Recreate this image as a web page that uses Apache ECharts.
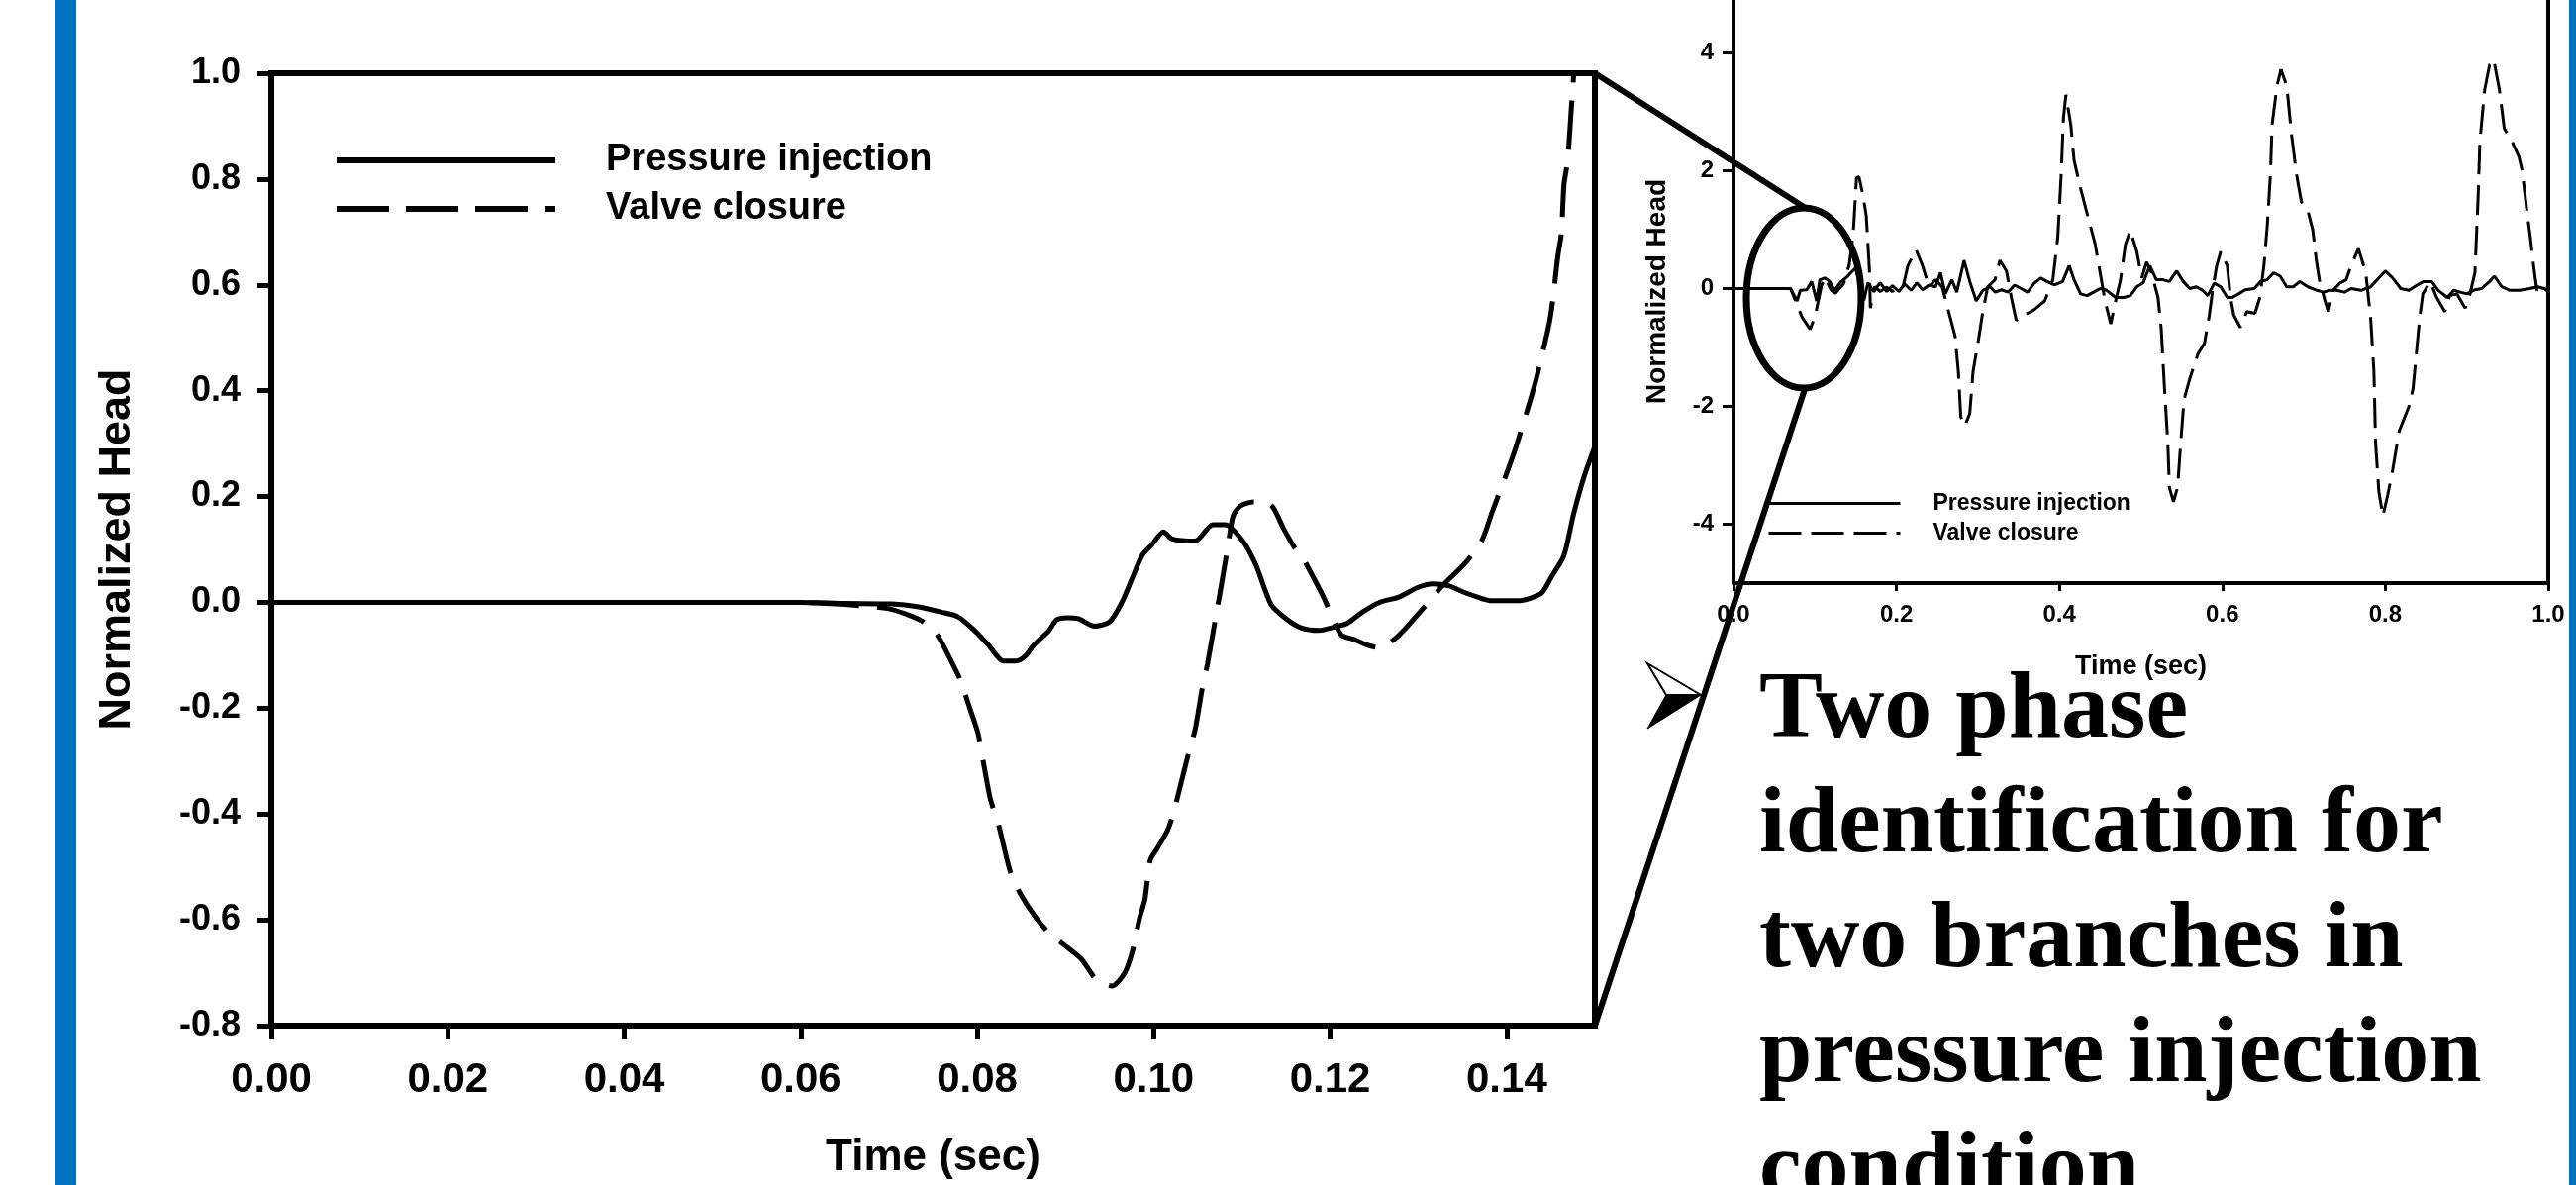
<!DOCTYPE html>
<html><head><meta charset="utf-8">
<script src="https://cdn.jsdelivr.net/npm/echarts@6/dist/echarts.min.js"></script>
<style>html,body{margin:0;padding:0;background:#fff;}#c{width:2602px;height:1197px;}</style>
</head><body><div id="c"></div>
<script>
// ---------------- data ----------------
const seriesNames = ['Pressure injection', 'Valve closure'];
const mainXTicks = [0, 0.02, 0.04, 0.06, 0.08, 0.10, 0.12, 0.14];
const mainYTicks = [-0.8, -0.6, -0.4, -0.2, 0, 0.2, 0.4, 0.6, 0.8, 1.0];
const insetXTicks = [0, 0.2, 0.4, 0.6, 0.8, 1.0];
const insetYTicks = [-4, -2, 0, 2, 4];

const mainPressure = [[0,0],[0.06,0],[0.065,-0.002],[0.0704,-0.003],[0.0732,-0.008],[0.0761,-0.019],[0.0778,-0.027],[0.0795,-0.05],[0.0812,-0.079],[0.083,-0.111],[0.0844,-0.111],[0.0855,-0.101],[0.0864,-0.081],[0.0881,-0.054],[0.089,-0.033],[0.0901,-0.029],[0.0915,-0.031],[0.0933,-0.045],[0.095,-0.037],[0.0964,0.0],[0.0975,0.043],[0.0987,0.089],[0.0998,0.109],[0.1011,0.133],[0.1021,0.12],[0.1047,0.116],[0.1067,0.147],[0.1081,0.147],[0.1101,0.116],[0.1116,0.07],[0.1133,-0.004],[0.115,-0.031],[0.1167,-0.048],[0.1187,-0.053],[0.1204,-0.047],[0.1219,-0.04],[0.1236,-0.019],[0.1256,0.0],[0.1278,0.01],[0.1299,0.028],[0.1316,0.035],[0.1335,0.031],[0.1349,0.021],[0.1367,0.01],[0.1383,0.003],[0.1413,0.003],[0.1439,0.017],[0.145,0.046],[0.1465,0.089],[0.1476,0.168],[0.1488,0.239],[0.15,0.295]];

const mainValve = [[0,0],[0.06,0],[0.065,-0.004],[0.07,-0.012],[0.0727,-0.027],[0.0741,-0.039],[0.0755,-0.062],[0.077,-0.109],[0.0781,-0.147],[0.0792,-0.202],[0.0801,-0.248],[0.0807,-0.302],[0.0815,-0.372],[0.0824,-0.419],[0.0838,-0.512],[0.085,-0.554],[0.0867,-0.597],[0.0881,-0.624],[0.0895,-0.643],[0.0918,-0.674],[0.0935,-0.713],[0.0953,-0.725],[0.0967,-0.701],[0.0976,-0.659],[0.0984,-0.597],[0.099,-0.562],[0.0996,-0.488],[0.1004,-0.465],[0.1016,-0.43],[0.1024,-0.388],[0.1038,-0.295],[0.1047,-0.24],[0.1055,-0.163],[0.1061,-0.116],[0.107,-0.031],[0.1075,0.016],[0.1084,0.105],[0.109,0.163],[0.1098,0.182],[0.1113,0.19],[0.1133,0.184],[0.1147,0.14],[0.1159,0.105],[0.117,0.081],[0.1181,0.047],[0.1193,0.008],[0.1204,-0.035],[0.1213,-0.062],[0.1227,-0.07],[0.1242,-0.081],[0.1256,-0.086],[0.1278,-0.062],[0.1305,-0.012],[0.1327,0.031],[0.1353,0.074],[0.1372,0.117],[0.1383,0.168],[0.1402,0.253],[0.1411,0.296],[0.1428,0.389],[0.1435,0.432],[0.1448,0.525],[0.1452,0.568],[0.1458,0.654],[0.1462,0.697],[0.1465,0.79],[0.1469,0.833],[0.1473,0.926],[0.1476,0.998],[0.148,1.1]];

const insetPressure = [[0,0],[0.07,0],[0.078,-0.21],[0.082,-0.03],[0.09,-0.02],[0.096,0.12],[0.102,-0.21],[0.106,0.15],[0.112,0.18],[0.118,0.12],[0.124,-0.03],[0.132,0.12],[0.138,0.18],[0.144,0.27],[0.15,0.35],[0.155,0.05],[0.16,-0.2],[0.165,0.1],[0.172,-0.05],[0.18,0.1],[0.188,-0.05],[0.195,0.05],[0.203,-0.05],[0.21,0.08],[0.218,-0.03],[0.225,0.1],[0.232,-0.02],[0.24,0.06],[0.248,0.03],[0.254,0.27],[0.26,-0.09],[0.268,0.15],[0.274,-0.06],[0.283,0.48],[0.29,0.12],[0.298,-0.21],[0.306,-0.03],[0.315,0.03],[0.321,-0.06],[0.329,-0.02],[0.337,-0.06],[0.345,0.06],[0.353,0],[0.361,-0.06],[0.369,0.09],[0.377,0.18],[0.385,0.12],[0.394,0.06],[0.404,0.12],[0.412,0.39],[0.418,0.15],[0.426,-0.09],[0.434,-0.12],[0.442,-0.06],[0.45,0],[0.458,-0.03],[0.469,-0.15],[0.479,-0.15],[0.487,-0.12],[0.495,0.03],[0.503,0.1],[0.511,0.39],[0.519,0.15],[0.527,0.15],[0.535,0.12],[0.544,0.3],[0.552,0.12],[0.56,0],[0.568,0.03],[0.576,-0.03],[0.582,-0.12],[0.59,0.09],[0.598,0.03],[0.606,-0.15],[0.612,-0.15],[0.62,-0.09],[0.628,-0.02],[0.639,0],[0.647,0.12],[0.655,0.15],[0.663,0.27],[0.671,0.21],[0.679,0.03],[0.687,0.03],[0.695,0.12],[0.705,0.03],[0.716,-0.03],[0.724,-0.06],[0.732,-0.03],[0.74,-0.03],[0.75,-0.06],[0.758,0.0],[0.77,-0.03],[0.782,0.03],[0.792,0.18],[0.8,0.3],[0.809,0.18],[0.819,0],[0.829,-0.03],[0.839,0.06],[0.847,0.12],[0.857,0.12],[0.865,-0.03],[0.876,-0.15],[0.884,-0.03],[0.892,-0.06],[0.9,-0.09],[0.908,-0.03],[0.918,0],[0.928,0.12],[0.934,0.21],[0.943,0.03],[0.953,-0.03],[0.965,-0.03],[0.977,0],[0.987,0.03],[0.995,0],[1.0,-0.05]];

const insetValve = [[0,0],[0.07,0],[0.084,-0.48],[0.094,-0.69],[0.1,-0.48],[0.108,0.05],[0.112,0.19],[0.12,-0.03],[0.125,-0.08],[0.135,0.08],[0.142,0.4],[0.147,0.93],[0.151,1.88],[0.154,1.9],[0.159,1.58],[0.163,1.23],[0.165,0.75],[0.167,0.27],[0.168,-0.33],[0.173,0.03],[0.18,-0.05],[0.188,0.02],[0.195,-0.05],[0.203,0.05],[0.208,0.03],[0.214,0.39],[0.224,0.66],[0.232,0.39],[0.24,0.03],[0.248,0.15],[0.256,0.03],[0.264,-0.39],[0.272,-0.81],[0.276,-1.41],[0.279,-2.18],[0.284,-2.33],[0.29,-2.12],[0.294,-1.41],[0.3,-0.93],[0.306,-0.39],[0.312,0.03],[0.321,0.15],[0.327,0.48],[0.335,0.3],[0.341,-0.15],[0.347,-0.54],[0.353,-0.45],[0.361,-0.42],[0.369,-0.36],[0.382,-0.21],[0.392,0.15],[0.398,0.87],[0.402,1.88],[0.405,2.9],[0.408,3.29],[0.414,2.78],[0.418,2.18],[0.426,1.7],[0.436,1.17],[0.444,0.75],[0.45,0.27],[0.456,-0.21],[0.463,-0.6],[0.469,-0.21],[0.475,0.15],[0.481,0.75],[0.487,0.99],[0.495,0.63],[0.501,0.18],[0.507,0.45],[0.513,0.27],[0.521,-0.15],[0.525,-0.69],[0.529,-1.7],[0.533,-2.6],[0.535,-3.38],[0.54,-3.62],[0.545,-3.38],[0.549,-2.6],[0.553,-1.88],[0.56,-1.53],[0.57,-1.11],[0.578,-0.93],[0.584,-0.45],[0.588,-0.03],[0.593,0.39],[0.598,0.63],[0.606,0.39],[0.61,-0.15],[0.614,-0.45],[0.622,-0.66],[0.63,-0.39],[0.64,-0.42],[0.646,-0.15],[0.651,0.39],[0.655,1.05],[0.659,1.94],[0.661,2.78],[0.667,3.44],[0.672,3.72],[0.679,3.44],[0.685,2.6],[0.691,1.94],[0.697,1.47],[0.705,1.32],[0.711,0.99],[0.715,0.51],[0.719,0.15],[0.726,-0.21],[0.73,-0.39],[0.736,-0.03],[0.744,0.09],[0.752,0.15],[0.758,0.39],[0.767,0.68],[0.776,0.27],[0.782,-0.51],[0.786,-1.41],[0.788,-2.6],[0.792,-3.44],[0.797,-3.86],[0.803,-3.5],[0.809,-3.08],[0.817,-2.42],[0.829,-2.0],[0.834,-1.7],[0.838,-1.11],[0.842,-0.51],[0.846,-0.09],[0.855,0.12],[0.863,-0.15],[0.873,-0.39],[0.879,-0.12],[0.888,-0.09],[0.898,-0.33],[0.904,-0.09],[0.91,0.27],[0.914,1.58],[0.916,2.48],[0.922,3.38],[0.928,3.8],[0.933,3.89],[0.94,3.38],[0.946,2.72],[0.956,2.48],[0.964,2.24],[0.968,2.0],[0.974,1.29],[0.978,0.87],[0.982,0.39],[0.986,-0.03],[0.99,0.05],[1.0,0]];

const axisTitleX = 'Time (sec)';
const axisTitleY = 'Normalized Head';
const slideLines = ['Two phase', 'identification for', 'two branches in', 'pressure injection', 'condition'];

// ---------------- chart ----------------
const SANS = '"Liberation Sans", Arial, sans-serif';
const SERIF = '"Liberation Serif", "Times New Roman", serif';
const BLACK = '#000';
const BLUE = '#0070C0';

const chart = echarts.init(document.getElementById('c'), null, {renderer: 'canvas'});

const slideTextEls = slideLines.map((t, i) => ({
  type: 'text', x: 1777, y: 719 + i * 116, z: 100,
  style: {text: t, fill: BLACK, font: 'bold 96px ' + SERIF, align: 'left', verticalAlign: 'middle'}
}));

const option = {
  animation: false,
  backgroundColor: '#fff',
  grid: [
    {left: 274, top: 74, width: 1337, height: 962, show: true, borderColor: BLACK, borderWidth: 6, backgroundColor: 'transparent'},
    {left: 1751, top: 0, width: 823, height: 589, show: false}
  ],
  xAxis: [
    {
      type: 'value', gridIndex: 0, min: 0, max: 0.15,
      axisLine: {onZero: false, lineStyle: {color: BLACK, width: 6}},
      axisTick: {customValues: mainXTicks, length: 14, lineStyle: {color: BLACK, width: 5}},
      axisLabel: {customValues: mainXTicks, formatter: v => v.toFixed(2), margin: 34, color: BLACK, fontSize: 42, fontWeight: 'bold', fontFamily: SANS},
      splitLine: {show: false},
      name: axisTitleX, nameLocation: 'middle', nameGap: 112,
      nameTextStyle: {color: BLACK, fontSize: 44, fontWeight: 'bold', fontFamily: SANS}
    },
    {
      type: 'value', gridIndex: 1, min: 0, max: 1,
      axisLine: {onZero: false, lineStyle: {color: BLACK, width: 4}},
      axisTick: {customValues: insetXTicks, length: 8, lineStyle: {color: BLACK, width: 3}},
      axisLabel: {customValues: insetXTicks, formatter: v => v.toFixed(1), margin: 20, color: BLACK, fontSize: 24, fontWeight: 'bold', fontFamily: SANS},
      splitLine: {show: false},
      name: axisTitleX, nameLocation: 'middle', nameGap: 71,
      nameTextStyle: {color: BLACK, fontSize: 27, fontWeight: 'bold', fontFamily: SANS}
    }
  ],
  yAxis: [
    {
      type: 'value', gridIndex: 0, min: -0.8, max: 1.0,
      axisLine: {onZero: false, lineStyle: {color: BLACK, width: 6}},
      axisTick: {customValues: mainYTicks, length: 14, lineStyle: {color: BLACK, width: 5}},
      axisLabel: {customValues: mainYTicks, formatter: v => v.toFixed(1), margin: 31, color: BLACK, fontSize: 36, fontWeight: 'bold', fontFamily: SANS},
      splitLine: {show: false},
      name: axisTitleY, nameLocation: 'middle', nameGap: 133,
      nameTextStyle: {color: BLACK, fontSize: 45, fontWeight: 'bold', fontFamily: SANS}
    },
    {
      type: 'value', gridIndex: 1, min: -5, max: 4.9,
      axisLine: {onZero: false, lineStyle: {color: BLACK, width: 4}},
      axisTick: {customValues: insetYTicks, length: 11, lineStyle: {color: BLACK, width: 3}},
      axisLabel: {customValues: insetYTicks, formatter: v => String(v), margin: 20, color: BLACK, fontSize: 24, fontWeight: 'bold', fontFamily: SANS},
      splitLine: {show: false},
      name: axisTitleY, nameLocation: 'middle', nameGap: 63,
      nameTextStyle: {color: BLACK, fontSize: 28, fontWeight: 'bold', fontFamily: SANS}
    },
    {
      type: 'value', gridIndex: 1, position: 'right', min: -5, max: 4.9,
      axisLine: {show: true, onZero: false, lineStyle: {color: BLACK, width: 4}},
      axisTick: {show: false}, axisLabel: {show: false}, splitLine: {show: false}
    }
  ],
  legend: [
    {
      left: 337, top: 143, orient: 'vertical', padding: 0,
      itemWidth: 221, itemHeight: 2, itemGap: 11, selectedMode: false,
      itemStyle: {opacity: 0},
      data: [
        {name: seriesNames[0], lineStyle: {type: 'solid', width: 6}},
        {name: seriesNames[1], lineStyle: {type: [53, 17], width: 6}}
      ],
      textStyle: {color: BLACK, fontSize: 38, fontWeight: 'bold', fontFamily: SANS, padding: [0, 0, 0, 46]}
    },
    {
      left: 1785, top: 497, orient: 'vertical', padding: 0,
      itemWidth: 133, itemHeight: 2, itemGap: 7, selectedMode: false,
      itemStyle: {opacity: 0},
      data: [
        {name: seriesNames[0], lineStyle: {type: 'solid', width: 3}},
        {name: seriesNames[1], lineStyle: {type: [33, 10], width: 3}}
      ],
      textStyle: {color: BLACK, fontSize: 23, fontWeight: 'bold', fontFamily: SANS, padding: [0, 0, 0, 28]}
    }
  ],
  series: [
    {name: seriesNames[0], type: 'line', xAxisIndex: 0, yAxisIndex: 0, data: mainPressure, symbol: 'none', smooth: 0.25,
     lineStyle: {color: BLACK, width: 5, type: 'solid'}, itemStyle: {color: BLACK}, z: 3},
    {name: seriesNames[1], type: 'line', xAxisIndex: 0, yAxisIndex: 0, data: mainValve, symbol: 'none', smooth: 0.25,
     lineStyle: {color: BLACK, width: 5, type: [50, 18]}, itemStyle: {color: BLACK}, z: 3},
    {name: seriesNames[0], type: 'line', xAxisIndex: 1, yAxisIndex: 1, data: insetPressure, symbol: 'none',
     lineStyle: {color: BLACK, width: 3, type: 'solid'}, itemStyle: {color: BLACK}, z: 3},
    {name: seriesNames[1], type: 'line', xAxisIndex: 1, yAxisIndex: 1, data: insetValve, symbol: 'none',
     lineStyle: {color: BLACK, width: 3, type: [30, 11]}, itemStyle: {color: BLACK}, z: 3}
  ],
  graphic: {
    elements: [
      {type: 'rect', shape: {x: 56, y: 0, width: 21, height: 1197}, style: {fill: BLUE}, z: 100},
      {type: 'rect', shape: {x: 2595, y: 0, width: 7, height: 1197}, style: {fill: BLUE}, z: 100},
      {type: 'line', shape: {x1: 1611, y1: 74, x2: 1822, y2: 209}, style: {stroke: BLACK, lineWidth: 6}, z: 100},
      {type: 'line', shape: {x1: 1611, y1: 1036, x2: 1823, y2: 393}, style: {stroke: BLACK, lineWidth: 6}, z: 100},
      {type: 'ellipse', shape: {cx: 1822, cy: 301, rx: 58, ry: 91}, style: {stroke: BLACK, lineWidth: 7, fill: null}, z: 100},
      {type: 'polygon', shape: {points: [[1664, 670], [1718, 702], [1683, 702]]}, style: {fill: '#fff', stroke: BLACK, lineWidth: 2}, z: 100},
      {type: 'polygon', shape: {points: [[1683, 702], [1718, 702], [1664, 736]]}, style: {fill: BLACK, stroke: BLACK, lineWidth: 1}, z: 100}
    ].concat(slideTextEls)
  }
};
chart.setOption(option);
</script>
</body></html>
